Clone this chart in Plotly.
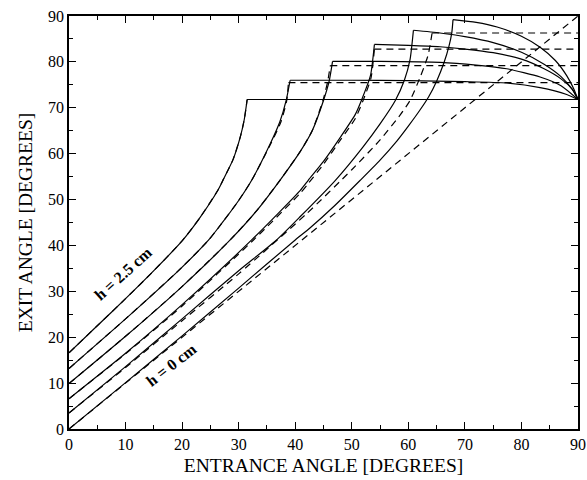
import plotly.graph_objects as go

# Exit angle versus entrance angle for slab thicknesses h = 0 ... 2.5 cm.
# Solid: full calculation; dashed: simplified model.

# --- solid curves: rising branch (entrance, exit) ---
s0_x = [0, 10, 20, 30, 40, 42.6, 47, 51.5, 55, 58, 60, 62, 63.6, 65, 66.3, 67.2, 67.7, 67.9]
s0_y = [0, 10.1, 20.3, 30.7, 41.2, 43.8, 48.7, 54.2, 58.6, 62.8, 66.0, 69.4, 72.4, 75.8, 79.8, 83.5, 86.5, 89.2]
s05_x = [0, 10, 20, 30, 36.7, 40.9, 47.1, 52, 55, 57.7, 59.3, 60.3, 60.9]
s05_y = [3.5, 13.6, 24.0, 34.5, 41.2, 46.3, 54.2, 61.5, 66.5, 71.6, 76.0, 80.5, 86.9]
s1_x = [0, 10, 20, 32.3, 40.9, 42.3, 45, 48, 50.6, 51.7, 53.3, 54.0]
s1_y = [6.6, 16.5, 27.1, 41.2, 52.0, 54.2, 58.3, 63.6, 68.5, 71.6, 77.0, 83.8]
s15_x = [0, 10, 19.6, 28.5, 33, 37.3, 40.9, 43, 45, 46, 46.6]
s15_y = [9.9, 20.2, 30.6, 41.2, 47.3, 54.2, 60.5, 65.0, 71.6, 75.8, 80.1]
s2_x = [0, 10, 19.6, 24.7, 27, 30, 32.3, 35.6, 37.3, 38.4, 39.1]
s2_y = [13.2, 24.0, 34.8, 41.2, 44.8, 49.8, 54.2, 62.2, 67.0, 71.6, 76.0]
s25_x = [0, 5, 10, 15, 20, 23, 26.4, 27.3, 29, 30.3, 31, 31.5]
s25_y = [16.6, 22.5, 28.4, 34.5, 41.0, 45.8, 52.2, 54.4, 58.7, 63.7, 67.5, 71.8]

# --- solid curves: falling branch after the maximum ---
f0_x = [67.9, 72, 75.7, 80, 83.3, 86, 88, 89.3, 90]
f0_y = [89.2, 88.6, 87.6, 85.6, 83.2, 80.3, 77.0, 74.0, 71.8]
f05_x = [60.9, 65.6, 70, 75, 80, 84, 87, 89, 90]
f05_y = [86.9, 86.3, 85.5, 84.2, 82.1, 79.5, 76.8, 74.0, 71.8]
f1_x = [54.0, 60, 65.6, 70, 75, 80, 84, 87, 89, 90]
f1_y = [83.8, 83.6, 83.3, 82.8, 82.0, 80.6, 78.5, 76.3, 74.0, 71.8]
f15_x = [46.6, 55, 65.6, 72, 77.4, 83.3, 87, 90]
f15_y = [80.1, 80.1, 79.9, 79.3, 78.5, 76.7, 74.8, 71.8]
f2_x = [39.1, 50, 60, 70, 77.4, 83.3, 88, 90]
f2_y = [76.0, 76.0, 75.9, 75.7, 75.4, 74.4, 72.9, 71.8]
f25_x = [31.5, 90]
f25_y = [71.8, 71.8]

# --- dashed curves: rising branch, then constant level up to 90 deg ---
d0_x = [0, 90]
d0_y = [0, 90]
d05_x = [0, 10, 20, 30, 42, 50, 55, 58.6, 60.3, 62.1, 63.5, 64.2]
d05_y = [3.5, 13.4, 23.6, 33.8, 46.9, 56.5, 63.0, 68.5, 71.6, 76.7, 81.5, 86.3]
d1_x = [0, 10, 20, 32.3, 40.9, 42.3, 45, 48, 50.6, 52, 53.4, 54.0]
d1_y = [6.6, 16.4, 26.8, 40.8, 51.4, 53.5, 57.7, 63.0, 67.6, 71.6, 76.5, 82.8]
d15_x = [0, 10, 19.6, 28.5, 33, 37.3, 40.9, 43, 44.9, 45.7, 46.2]
d15_y = [9.9, 20.2, 30.6, 41.2, 47.3, 54.2, 60.5, 65.0, 71.6, 75.5, 79.2]
d2_x = [0, 10, 19.6, 24.7, 27, 30, 32.3, 35.7, 37.5, 38.5, 38.8]
d2_y = [13.2, 24.0, 34.8, 41.2, 44.8, 49.8, 54.2, 62.2, 67.0, 71.6, 75.5]
d25_x = s25_x
d25_y = s25_y
plateau = [None, 86.3, 82.8, 79.2, 75.5, 71.8]

solid_rise = [(s0_x, s0_y), (s05_x, s05_y), (s1_x, s1_y),
              (s15_x, s15_y), (s2_x, s2_y), (s25_x, s25_y)]
solid_fall = [(f0_x, f0_y), (f05_x, f05_y), (f1_x, f1_y),
              (f15_x, f15_y), (f2_x, f2_y), (f25_x, f25_y)]
dashed_rise = [(d0_x, d0_y), (d05_x, d05_y), (d1_x, d1_y),
               (d15_x, d15_y), (d2_x, d2_y), (d25_x, d25_y)]

SERIF = "Liberation Serif, Times New Roman, serif"
LW = 1.2
DASH = "7px,5px"

fig = go.Figure()

for (xr, yr), (xf, yf) in zip(solid_rise, solid_fall):
    for xs, ys in ((xr, yr), (xf, yf)):
        fig.add_trace(go.Scatter(x=xs, y=ys, mode="lines",
                                 line=dict(color="black", width=LW, shape="spline", smoothing=0.6),
                                 showlegend=False, hoverinfo="skip"))

for (xd, yd), level in zip(dashed_rise, plateau):
    fig.add_trace(go.Scatter(x=xd, y=yd, mode="lines",
                             line=dict(color="black", width=LW, dash=DASH,
                                       shape="spline", smoothing=0.6),
                             showlegend=False, hoverinfo="skip"))
    if level is not None:
        fig.add_trace(go.Scatter(x=[xd[-1], 90], y=[level, level], mode="lines",
                                 line=dict(color="black", width=LW, dash=DASH),
                                 showlegend=False, hoverinfo="skip"))

fig.add_annotation(x=9.6, y=33.8, text="<b>h = 2.5 cm</b>", showarrow=False,
                   textangle=-42, font=dict(family=SERIF, size=16, color="black"))
fig.add_annotation(x=18.2, y=14.0, text="<b>h = 0 cm</b>", showarrow=False,
                   textangle=-38, font=dict(family=SERIF, size=16, color="black"))

axis_common = dict(
    range=[0, 90], dtick=10, tick0=0, automargin=False,
    ticks="inside", ticklen=7, tickwidth=1.2, tickcolor="black",
    minor=dict(dtick=5, ticks="inside", ticklen=4, tickwidth=1.2, tickcolor="black"),
    showline=True, linecolor="black", linewidth=1.6, mirror="allticks",
    showgrid=False, zeroline=False,
    tickfont=dict(family=SERIF, size=16, color="black"),
)

fig.update_xaxes(**axis_common,
                 title=dict(text="ENTRANCE ANGLE [DEGREES]", standoff=6,
                            font=dict(family=SERIF, size=19.5, color="black")))
fig.update_yaxes(**axis_common,
                 title=dict(text="EXIT ANGLE [DEGREES]", standoff=10,
                            font=dict(family=SERIF, size=19.5, color="black")))

fig.update_layout(
    width=587, height=480,
    margin=dict(l=69, r=9, t=16, b=51),
    plot_bgcolor="white", paper_bgcolor="white",
)

fig.write_html("out.html")
